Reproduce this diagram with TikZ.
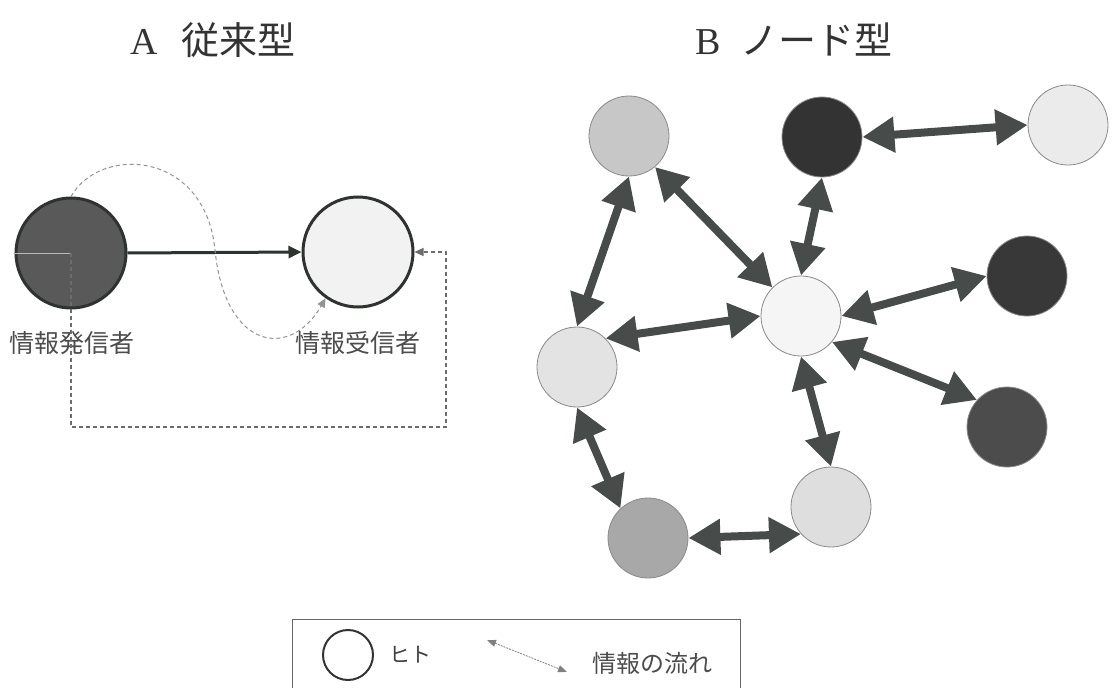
\documentclass[tikz,border=0pt]{standalone}
\usepackage{fontspec}
\newfontfamily\jp{Noto Sans CJK JP}
\newfontfamily\lat{Liberation Serif}
\usetikzlibrary{arrows.meta}
\definecolor{flowc}{HTML}{474C4A}
\definecolor{edgec}{HTML}{2E332F}
\definecolor{ringc}{HTML}{8A8A8A}
\begin{document}
\begin{tikzpicture}[x=1pt,y=-1pt,
  person/.style={circle, minimum size=80pt, inner sep=0pt, draw=ringc, line width=0.8pt},
  bigperson/.style={circle, minimum size=110pt, inner sep=0pt, draw=edgec, line width=3pt},
  flow/.style={line width=8pt, draw=flowc, {Triangle[length=32pt 0 0,width=34pt 0 0]}-{Triangle[length=32pt 0 0,width=34pt 0 0]}},
  solidarrow/.style={line width=3pt, draw=edgec, -{Triangle[length=13pt 0 0,width=12pt 0 0]}},
  curvedash/.style={line width=1pt, draw=gray!85, dash pattern=on 4pt off 3pt, -{Triangle[length=9pt 0 0,width=8pt 0 0]}},
  rectdash/.style={line width=1.2pt, draw=gray!85!black, dash pattern=on 4pt off 3pt, -{Triangle[length=9pt 0 0,width=8pt 0 0]}},
  title/.style={font=\fontsize{38pt}{40pt}\selectfont, inner sep=0pt, anchor=west, text=black!80},
  label/.style={font=\jp\fontsize{25pt}{27pt}\selectfont, text=black!70, inner sep=0pt},
]
\useasboundingbox (0,0) rectangle (1112,688);
\fill[white] (0,0) rectangle (1112,688);

% titles
\node[title] (tA) at (130,40) {\lat A\hspace{24pt}\jp 従来型};
\node[title] (tB) at (695,40) {\lat B\hspace{20pt}\jp ノード型};

% ---- A: conventional ----
\node[bigperson, fill=black!65] (sender) at (71,253) {};
\node[bigperson, fill=black!5] (receiver) at (358,252) {};
\node[label] (lsend) at (72,343) {情報発信者};
\node[label] (lrecv) at (358,343) {情報受信者};

\draw[solidarrow] (sender.east) -- (receiver.west);
\draw[curvedash] (sender.north) .. controls (100,145) and (205,150) .. (215,250)
   .. controls (225,350) and (290,360) .. (receiver.235);
\coordinate (rc) at (446,427);
\draw[line width=0.6pt, gray!55] (sender.west) -- (sender.center);
\draw[rectdash] (sender.center) |- (rc) |- (receiver.east);

% ---- B: node type ----
\node[person, fill=black!22] (n1) at (629,136) {};
\node[person, fill=black!80] (n2) at (822,137) {};
\node[person, fill=black!8]  (n3) at (1068,125) {};
\node[person, fill=black!78] (n4) at (1027,276) {};
\node[person, fill=black!4]  (n5) at (801,316) {};
\node[person, fill=black!11] (n6) at (577,367) {};
\node[person, fill=black!70] (n7) at (1007,427) {};
\node[person, fill=black!13] (n8) at (831,507) {};
\node[person, fill=black!34] (n9) at (648,538) {};

\draw[flow] (n2.east) -- (n3.west);
\draw[flow] (n1.south) -- (n6.north);
\draw[flow] (n1.-50) -- (n5.135);
\draw[flow] (n2.south) -- (n5.north);
\draw[flow] (n6.45) -- (n5.west);
\draw[flow] (n5.east) -- (n4.west);
\draw[flow] (n5.-40) -- (n7.138);
\draw[flow] (n5.south) -- (n8.north);
\draw[flow] (n6.south) -- (n9.133);
\draw[flow] (n9.east) -- (n8.222);

% ---- legend ----
\draw[line width=1pt, black!60] (292,688) -- (292,619) -- (740,619) -- (740,688);
\node[circle, minimum size=50pt, inner sep=0pt, draw=black!80, line width=2pt, fill=white] (lcirc) at (348,655) {};
\node[font=\jp\fontsize{21pt}{23pt}\selectfont, text=black!75, inner sep=0pt] (lhito) at (410,655) {ヒト};
\coordinate (la) at (487,640);
\coordinate (lb) at (567,672);
\draw[line width=0.8pt, gray, dash pattern=on 2pt off 1pt, {Triangle[length=9pt 0 0,width=7pt 0 0]}-{Triangle[length=9pt 0 0,width=7pt 0 0]}] (la) -- (lb);
\node[font=\jp\fontsize{24pt}{26pt}\selectfont, text=black!70, inner sep=0pt] (lflow) at (652,663) {情報の流れ};
\end{tikzpicture}
\end{document}
